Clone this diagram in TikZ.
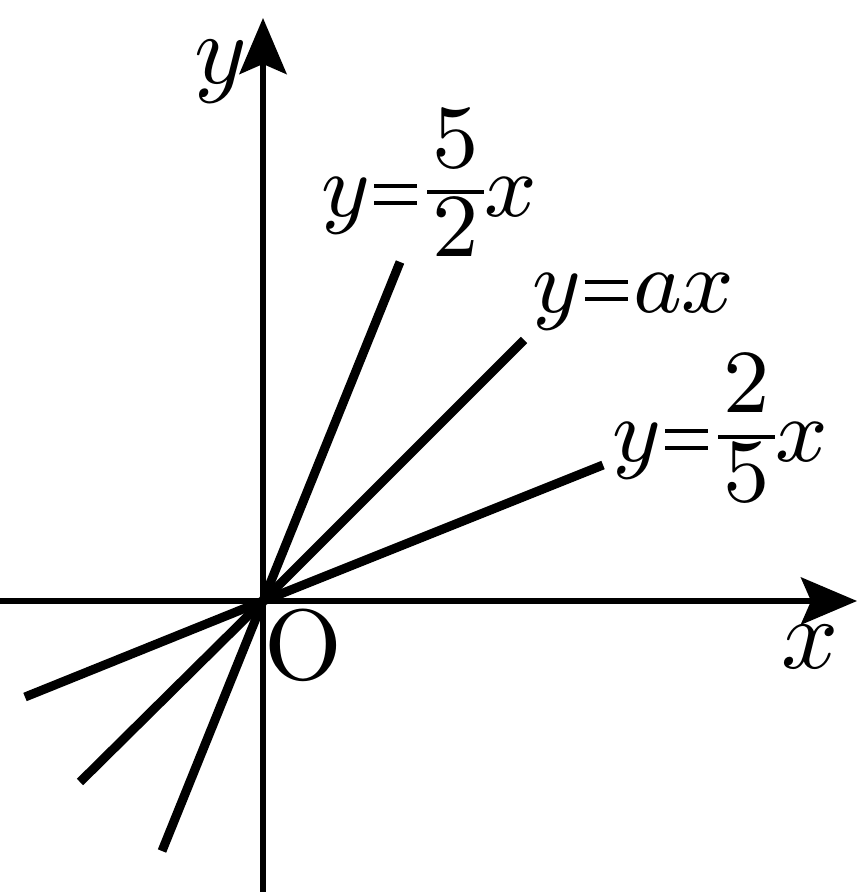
\documentclass[tikz,border=0pt]{standalone}
\usetikzlibrary{arrows.meta}
\usepackage{graphicx}
\newcommand\myfr[2]{\mathord{%
  \setbox0=\hbox{$#1$}\dimen0=\wd0 \advance\dimen0 by 0.12em
  \rlap{\raisebox{0.55em}{\makebox[\dimen0]{$#1$}}}%
  \rlap{\raisebox{-0.44em}{\makebox[\dimen0]{$#2$}}}%
  \raisebox{0.26em}{\rule{\dimen0}{0.04em}}}}
\newcommand\myeq{\mathord{\kern0.05em
  \rlap{\raisebox{0.32em}{\rule{0.47em}{0.05em}}}%
  \raisebox{0.13em}{\rule{0.47em}{0.05em}}\kern0.06em}}
\begin{document}
\begin{tikzpicture}[x=0.1pt,y=-0.1pt,
  axisline/.style={line width=0.6pt,-{Stealth[length=5.6pt,width=4.7pt,inset=1pt]}},
  graphline/.style={line width=0.9pt},
  lbl/.style={inner sep=0pt,font=\fontsize{9}{11}\selectfont},
  axlbl/.style={inner sep=0pt,font=\fontsize{10}{12}\selectfont}]
\useasboundingbox (0,0) rectangle (857,892);
\coordinate (O) at (263,601);
\coordinate (xs) at (0,601);
\coordinate (xe) at (857,601);
\coordinate (ys) at (263,892);
\coordinate (ye) at (263,18);
\draw[axisline] (xs) -- (xe);
\draw[axisline] (ys) -- (ye);
\coordinate (p1) at (400,262);
\coordinate (q1) at (162,851);
\coordinate (p2) at (524,340);
\coordinate (q2) at (80,782);
\coordinate (p3) at (603,465);
\coordinate (q3) at (25,697);
\draw[graphline] (q1) -- (O) -- (p1);
\draw[graphline] (q2) -- (O) -- (p2);
\draw[graphline] (q3) -- (O) -- (p3);
\node[axlbl,anchor=base west] (ylab) at (192,84) {$y$};
\node[axlbl,anchor=base west] (xlab) at (779,668) {$x$};
\node[axlbl,anchor=base] (olab) at (303,679) {O};
\node[lbl,anchor=base west] (l1) at (319,217) {$y\myeq\mkern1mu\myfr{5}{2}x$};
\node[lbl,anchor=base west] (l2) at (530,313) {$y\myeq ax$};
\node[lbl,anchor=base west] (l3) at (610,462) {$y\myeq\mkern1mu\myfr{2}{5}x$};
\end{tikzpicture}
\end{document}
